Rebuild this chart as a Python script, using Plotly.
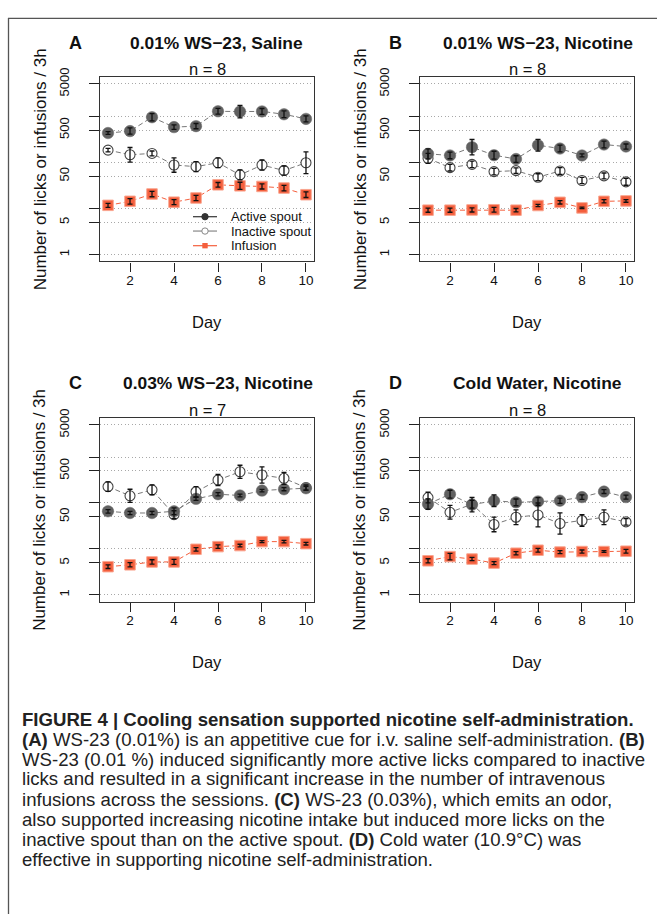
import plotly.graph_objects as go

W, H = 657, 914

days = [1, 2, 3, 4, 5, 6, 7, 8, 9, 10]

# Panel A: 0.01% WS-23, Saline
A_active = [432, 476, 951, 580, 609, 1277, 1260, 1270, 1101, 875]
A_active_se = [30, 80, 190, 70, 85, 200, 460, 200, 200, 140]
A_inactive = [184, 146, 156, 87.5, 80.7, 98, 53.4, 87.5, 66.4, 98]
A_inactive_se = [17, 64, 20, 38, 23, 27, 15, 25, 17, 70]
A_infusion = [11.7, 14.3, 20.6, 13.7, 16.9, 32.6, 31, 30, 27.7, 19.9]
A_infusion_se = [1.2, 2.1, 3, 1.8, 2.4, 4, 6, 4, 4, 3]

# Panel B: 0.01% WS-23, Nicotine
B_active = [153, 141, 213, 143, 118, 235, 199, 141, 243, 220]
B_active_se = [43, 25, 100, 31, 21, 80, 36, 11, 44, 30]
B_inactive = [122, 76.7, 90.4, 63, 66, 47.6, 65, 40.4, 50.8, 37.8]
B_inactive_se = [34, 14, 16, 11, 10, 9, 12, 7, 8, 7]
B_infusion = [9.2, 9.2, 9.3, 9.4, 9.2, 11.6, 13.6, 10.3, 14.3, 14.6]
B_infusion_se = [1, 1, 1, 1.2, 0.8, 0.7, 1.2, 0.4, 1.2, 1]

# Panel C: 0.03% WS-23, Nicotine
C_active = [65.8, 60.5, 60.5, 65.8, 123, 155, 145.5, 186, 199, 209]
C_active_se = [6, 5, 5, 12, 10, 13, 10, 12, 16, 20]
C_inactive = [227, 143, 193, 55.7, 175, 316, 478, 406, 344, 216]
C_inactive_se = [60, 56, 54, 12, 52, 100, 185, 205, 120, 30]
C_infusion = [4.1, 4.5, 5.2, 5.2, 9.8, 11.2, 11.8, 14.4, 14.4, 13]
C_infusion_se = [0.4, 0.5, 0.6, 0.7, 0.9, 1, 0.8, 0.7, 0.9, 0.9]

# Panel D: Cold Water, Nicotine
D_active = [94.6, 155, 91.6, 112, 103, 108, 112, 134, 177, 134]
D_active_se = [28, 34, 40, 38, 19, 23, 16, 16, 18, 14]
D_inactive = [131, 62.6, 94, 34, 48.9, 54.8, 35.7, 41.4, 48.9, 38.7]
D_inactive_se = [40, 26, 20, 15, 22, 45, 25, 14, 22, 7]
D_infusion = [5.5, 6.8, 6.0, 4.9, 8.05, 9.35, 8.5, 8.75, 8.75, 8.9]
D_infusion_se = [0.6, 1.2, 0.5, 0.4, 0.7, 0.9, 0.7, 0.7, 0.4, 0.9]

panel_letters = ["A", "B", "C", "D"]
panel_titles = ["0.01% WS\u221223, Saline", "0.01% WS\u221223, Nicotine",
                "0.03% WS\u221223, Nicotine", "Cold Water, Nicotine"]
panel_n = ["n = 8", "n = 8", "n = 7", "n = 8"]
ytick_vals = [1, 5, 10, 50, 100, 500, 1000, 5000]
ytick_text = ["1", "5", "", "50", "", "500", "", "5000"]
xtick_vals = [2, 4, 6, 8, 10]
series_names = ["Active spout", "Inactive spout", "Infusion"]

panels = [
    (A_active, A_active_se, A_inactive, A_inactive_se, A_infusion, A_infusion_se),
    (B_active, B_active_se, B_inactive, B_inactive_se, B_infusion, B_infusion_se),
    (C_active, C_active_se, C_inactive, C_inactive_se, C_infusion, C_infusion_se),
    (D_active, D_active_se, D_inactive, D_inactive_se, D_infusion, D_infusion_se),
]

def fx(p):
    return p / W

def fy(p):
    return 1 - p / H

# plot boxes in pixels (left, right, top, bottom)
boxes = [
    (100.1, 313.9, 67.9, 254.2),
    (420.1, 633.9, 67.9, 254.2),
    (100.1, 313.9, 412.7, 598.1),
    (420.1, 633.9, 412.7, 598.1),
]

FONT = "Liberation Sans, Arial, Helvetica, sans-serif"
ACT = "#616161"
INACT_LINE = "#777777"
RED = "#f45f3d"
DASH = "5px,3px"

fig = go.Figure()

def lower_err(vals, se):
    # draw bars symmetric on the log scale
    return [v - v * v / (v + s) for v, s in zip(vals, se)]

for i, (act, act_se, ina, ina_se, inf, inf_se) in enumerate(panels):
    xa = "x" if i == 0 else f"x{i+1}"
    ya = "y" if i == 0 else f"y{i+1}"
    fig.add_trace(go.Scatter(
        x=days, y=ina, xaxis=xa, yaxis=ya, mode="lines+markers", showlegend=False,
        line=dict(color=INACT_LINE, width=1, dash=DASH),
        marker=dict(symbol="circle", size=10, color="white", line=dict(color="#444", width=1.1))))
    fig.add_trace(go.Scatter(
        x=days, y=act, xaxis=xa, yaxis=ya, mode="lines+markers", showlegend=False,
        line=dict(color=INACT_LINE, width=1, dash=DASH),
        marker=dict(symbol="circle", size=11.5, color=ACT, line=dict(color="#6a6a6a", width=0.5))))
    fig.add_trace(go.Scatter(
        x=days, y=inf, xaxis=xa, yaxis=ya, mode="lines+markers", showlegend=False,
        line=dict(color=RED, width=1, dash=DASH),
        marker=dict(symbol="square", size=10.5, color=RED, line=dict(color="#f9a58f", width=1))))
    for vals, se in ((ina, ina_se), (act, act_se), (inf, inf_se)):
        fig.add_trace(go.Scatter(
            x=days, y=vals, xaxis=xa, yaxis=ya, mode="markers", showlegend=False,
            marker=dict(size=1, color="rgba(0,0,0,0)"),
            error_y=dict(type="data", symmetric=False, array=se, arrayminus=lower_err(vals, se),
                         visible=True, color="#111", thickness=1.3, width=2.5)))

layout = dict(
    width=W, height=H, margin=dict(l=0, r=0, t=0, b=0),
    paper_bgcolor="white", plot_bgcolor="white",
    font=dict(family=FONT, color="#111"),
    showlegend=False,
)

annotations = []
shapes = []
for i, (l, r, t, b) in enumerate(boxes):
    sfx = "" if i == 0 else str(i + 1)
    layout["xaxis" + sfx] = dict(
        domain=[fx(l), fx(r)], range=[0.64, 10.36], anchor="y" + sfx,
        tickvals=xtick_vals, ticks="outside", ticklen=9, tickwidth=1, tickcolor="#222",
        ticklabelstandoff=-3,
        showline=True, mirror=True, linecolor="#333", linewidth=1.2,
        showgrid=False, zeroline=False,
        tickfont=dict(size=13.5, family=FONT, color="#111"))
    layout["yaxis" + sfx] = dict(
        domain=[fy(b), fy(t)], type="log", range=[-0.147, 3.846], anchor="x" + sfx,
        tickvals=ytick_vals, ticktext=ytick_text, tickangle=-90,
        ticks="outside", ticklen=10, tickwidth=1, tickcolor="#222",
        ticklabelstandoff=15,
        showline=True, mirror=True, linecolor="#333", linewidth=1.2,
        showgrid=True, gridcolor="#a8a8a8", gridwidth=1, griddash="1px,2.5px", zeroline=False,
        tickfont=dict(size=13, family=FONT, color="#111"))
    cx = (l + r) / 2
    top_row = i < 2
    title_y = 33.5 if top_row else 377.5
    n_y = 60 if top_row else 404
    letter_x = 75 if i % 2 == 0 else 395
    title_x = [216.7, 537.5, 217.5, 537][i]
    ylab_x = 40 if i % 2 == 0 else 360
    day_y = 315 if top_row else 659
    annotations += [
        dict(x=fx(letter_x), y=fy(title_y), xref="paper", yref="paper", text=f"<b>{panel_letters[i]}</b>",
             showarrow=False, xanchor="center", yanchor="middle", font=dict(size=18, family=FONT, color="#111")),
        dict(x=fx(title_x), y=fy(title_y), xref="paper", yref="paper", text=f"<b>{panel_titles[i]}</b>",
             showarrow=False, xanchor="center", yanchor="middle", font=dict(size=17.4, family=FONT, color="#111")),
        dict(x=fx(cx), y=fy(n_y), xref="paper", yref="paper", text=panel_n[i],
             showarrow=False, xanchor="center", yanchor="middle", font=dict(size=16.5, family=FONT, color="#111")),
        dict(x=fx(ylab_x), y=fy((t + b) / 2), xref="paper", yref="paper",
             text="Number of licks or infusions / 3h", textangle=-90,
             showarrow=False, xanchor="center", yanchor="middle", font=dict(size=17, family=FONT, color="#111")),
        dict(x=fx(cx), y=fy(day_y), xref="paper", yref="paper", text="Day",
             showarrow=False, xanchor="center", yanchor="middle", font=dict(size=16.5, family=FONT, color="#111")),
    ]

# legend (panel A), drawn as key glyphs + text
leg_rows = [209, 223.5, 238.3]
leg_line_colors = ["#333333", "#888888", RED]
for name, yy, col, k in zip(series_names, leg_rows, leg_line_colors, range(3)):
    shapes.append(dict(type="line", xref="paper", yref="paper", x0=fx(193), x1=fx(217),
                       y0=fy(yy), y1=fy(yy), line=dict(color=col, width=1.2)))
    if k == 0:
        shapes.append(dict(type="circle", xref="paper", yref="paper", x0=fx(201.8), x1=fx(208.2),
                           y0=fy(yy + 3.2), y1=fy(yy - 3.2), fillcolor="#333", line=dict(color="#333", width=1)))
    elif k == 1:
        shapes.append(dict(type="circle", xref="paper", yref="paper", x0=fx(201.8), x1=fx(208.2),
                           y0=fy(yy + 3.2), y1=fy(yy - 3.2), fillcolor="white", line=dict(color="#888", width=1)))
    else:
        shapes.append(dict(type="rect", xref="paper", yref="paper", x0=fx(202.3), x1=fx(207.7),
                           y0=fy(yy + 2.7), y1=fy(yy - 2.7), fillcolor=RED, line=dict(width=0)))
    annotations.append(dict(x=fx(229), y=fy(yy), xref="paper", yref="paper", text=name,
                            showarrow=False, xanchor="left", yanchor="middle",
                            font=dict(size=13, family=FONT, color="#111")))

caption_lines = [
    "<b>FIGURE 4 | Cooling sensation supported nicotine self-administration.</b>",
    "<b>(A)</b> WS-23 (0.01%) is an appetitive cue for i.v. saline self-administration. <b>(B)</b>",
    "WS-23 (0.01 %) induced significantly more active licks compared to inactive",
    "licks and resulted in a significant increase in the number of intravenous",
    "infusions across the sessions. <b>(C)</b> WS-23 (0.03%), which emits an odor,",
    "also supported increasing nicotine intake but induced more licks on the",
    "inactive spout than on the active spout. <b>(D)</b> Cold water (10.9°C) was",
    "effective in supporting nicotine self-administration.",
]
cap_y = [717.3, 737.5, 757.5, 777.5, 798, 818.5, 839, 859.3]
for line, yy in zip(caption_lines, cap_y):
    annotations.append(dict(x=fx(20), y=fy(yy), xref="paper", yref="paper", text=line,
                            showarrow=False, xanchor="left", yanchor="middle",
                            font=dict(size=18.6, family=FONT, color="#222")))

shapes.append(dict(type="line", xref="paper", yref="paper", x0=fx(8.5), x1=fx(8.5),
                   y0=fy(8), y1=0, line=dict(color="#555", width=1.3)))
shapes.append(dict(type="line", xref="paper", yref="paper", x0=fx(8), x1=1,
                   y0=fy(8.5), y1=fy(8.5), line=dict(color="#555", width=1.3)))

layout["annotations"] = annotations
layout["shapes"] = shapes
fig.update_layout(**layout)

fig.write_html("out.html")
